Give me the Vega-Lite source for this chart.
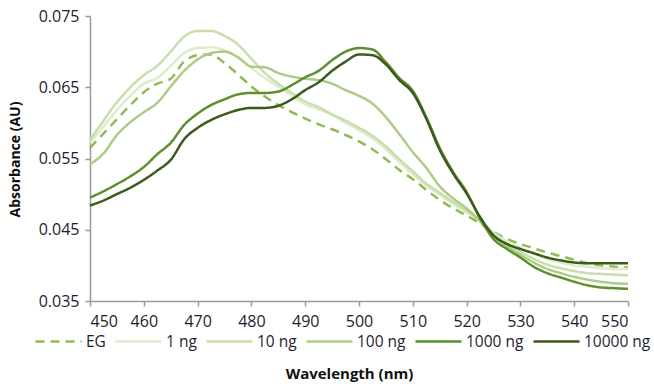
{
  "$schema": "https://vega.github.io/schema/vega-lite/v6.json",
  "autosize": "none",
  "width": 538,
  "height": 285,
  "padding": {"left": 90, "top": 16, "right": 26, "bottom": 83},
  "background": "white",
  "config": {
    "view": {"stroke": null},
    "font": "Open Sans",
    "axis": {
      "domainColor": "#9a9a9a",
      "domainWidth": 1.5,
      "tickColor": "#9a9a9a",
      "tickWidth": 1.5,
      "tickSize": 5,
      "grid": false,
      "labelFont": "Open Sans",
      "labelFontSize": 16,
      "labelColor": "#1e1e2a",
      "titleFont": "Open Sans",
      "titleFontWeight": "bold",
      "titleFontSize": 15,
      "titleColor": "#111111"
    },
    "legend": {
      "labelFont": "Open Sans",
      "labelFontSize": 15.5,
      "labelColor": "#1e1e2a"
    }
  },
  "data": {
    "values": [
      {"wl": 450, "EG": 0.0565, "1 ng": 0.0572, "10 ng": 0.0576, "100 ng": 0.0542, "1000 ng": 0.0495, "10000 ng": 0.0484},
      {"wl": 452.5, "EG": 0.0585, "1 ng": 0.0595, "10 ng": 0.0603, "100 ng": 0.0557, "1000 ng": 0.0504, "10000 ng": 0.0491},
      {"wl": 455, "EG": 0.0605, "1 ng": 0.0618, "10 ng": 0.0629, "100 ng": 0.0583, "1000 ng": 0.0514, "10000 ng": 0.05},
      {"wl": 457.5, "EG": 0.0625, "1 ng": 0.0638, "10 ng": 0.065, "100 ng": 0.0601, "1000 ng": 0.0525, "10000 ng": 0.0509},
      {"wl": 460, "EG": 0.0643, "1 ng": 0.0655, "10 ng": 0.0667, "100 ng": 0.0615, "1000 ng": 0.0538, "10000 ng": 0.052},
      {"wl": 462.5, "EG": 0.0655, "1 ng": 0.0663, "10 ng": 0.068, "100 ng": 0.0628, "1000 ng": 0.0556, "10000 ng": 0.0533},
      {"wl": 465, "EG": 0.0662, "1 ng": 0.068, "10 ng": 0.07, "100 ng": 0.0651, "1000 ng": 0.0572, "10000 ng": 0.0548},
      {"wl": 467.5, "EG": 0.0686, "1 ng": 0.0698, "10 ng": 0.0721, "100 ng": 0.0673, "1000 ng": 0.0597, "10000 ng": 0.0577},
      {"wl": 470, "EG": 0.0695, "1 ng": 0.0705, "10 ng": 0.0729, "100 ng": 0.0689, "1000 ng": 0.0613, "10000 ng": 0.0593},
      {"wl": 472.5, "EG": 0.0696, "1 ng": 0.0706, "10 ng": 0.0729, "100 ng": 0.0698, "1000 ng": 0.0625, "10000 ng": 0.0604},
      {"wl": 475, "EG": 0.0684, "1 ng": 0.0702, "10 ng": 0.0722, "100 ng": 0.07, "1000 ng": 0.0633, "10000 ng": 0.0612},
      {"wl": 477.5, "EG": 0.0668, "1 ng": 0.0692, "10 ng": 0.071, "100 ng": 0.0692, "1000 ng": 0.064, "10000 ng": 0.0618},
      {"wl": 480, "EG": 0.0651, "1 ng": 0.0677, "10 ng": 0.069, "100 ng": 0.0679, "1000 ng": 0.0642, "10000 ng": 0.0621},
      {"wl": 482.5, "EG": 0.0637, "1 ng": 0.0663, "10 ng": 0.067, "100 ng": 0.0678, "1000 ng": 0.0642, "10000 ng": 0.0621},
      {"wl": 485, "EG": 0.0625, "1 ng": 0.0651, "10 ng": 0.0655, "100 ng": 0.067, "1000 ng": 0.0644, "10000 ng": 0.0624},
      {"wl": 487.5, "EG": 0.0615, "1 ng": 0.0638, "10 ng": 0.0642, "100 ng": 0.0665, "1000 ng": 0.0653, "10000 ng": 0.0633},
      {"wl": 490, "EG": 0.0606, "1 ng": 0.0626, "10 ng": 0.063, "100 ng": 0.0662, "1000 ng": 0.0664, "10000 ng": 0.0646},
      {"wl": 492.5, "EG": 0.0598, "1 ng": 0.0619, "10 ng": 0.0622, "100 ng": 0.066, "1000 ng": 0.0673, "10000 ng": 0.0657},
      {"wl": 495, "EG": 0.0591, "1 ng": 0.0611, "10 ng": 0.0612, "100 ng": 0.0655, "1000 ng": 0.0688, "10000 ng": 0.0673},
      {"wl": 497.5, "EG": 0.0583, "1 ng": 0.06, "10 ng": 0.0603, "100 ng": 0.0646, "1000 ng": 0.07, "10000 ng": 0.0686},
      {"wl": 500, "EG": 0.0574, "1 ng": 0.059, "10 ng": 0.0593, "100 ng": 0.0638, "1000 ng": 0.0705, "10000 ng": 0.0696},
      {"wl": 502.5, "EG": 0.0563, "1 ng": 0.0578, "10 ng": 0.0582, "100 ng": 0.0627, "1000 ng": 0.0703, "10000 ng": 0.0695},
      {"wl": 505, "EG": 0.0549, "1 ng": 0.0563, "10 ng": 0.0567, "100 ng": 0.0608, "1000 ng": 0.0685, "10000 ng": 0.0682},
      {"wl": 507.5, "EG": 0.0534, "1 ng": 0.0545, "10 ng": 0.0549, "100 ng": 0.0584, "1000 ng": 0.0663, "10000 ng": 0.066},
      {"wl": 510, "EG": 0.0521, "1 ng": 0.0528, "10 ng": 0.0532, "100 ng": 0.0559, "1000 ng": 0.0645, "10000 ng": 0.0642},
      {"wl": 512.5, "EG": 0.0506, "1 ng": 0.0512, "10 ng": 0.0515, "100 ng": 0.0537, "1000 ng": 0.0608, "10000 ng": 0.0606},
      {"wl": 515, "EG": 0.0492, "1 ng": 0.0499, "10 ng": 0.0502, "100 ng": 0.0511, "1000 ng": 0.0565, "10000 ng": 0.0562},
      {"wl": 517.5, "EG": 0.048, "1 ng": 0.0486, "10 ng": 0.0489, "100 ng": 0.0494, "1000 ng": 0.0531, "10000 ng": 0.0529},
      {"wl": 520, "EG": 0.047, "1 ng": 0.0474, "10 ng": 0.0477, "100 ng": 0.048, "1000 ng": 0.0503, "10000 ng": 0.0501},
      {"wl": 522.5, "EG": 0.0459, "1 ng": 0.0463, "10 ng": 0.0463, "100 ng": 0.0462, "1000 ng": 0.0466, "10000 ng": 0.0468},
      {"wl": 525, "EG": 0.0447, "1 ng": 0.0446, "10 ng": 0.0444, "100 ng": 0.0442, "1000 ng": 0.0437, "10000 ng": 0.0442},
      {"wl": 527.5, "EG": 0.0437, "1 ng": 0.0434, "10 ng": 0.043, "100 ng": 0.0427, "1000 ng": 0.0423, "10000 ng": 0.043},
      {"wl": 530, "EG": 0.043, "1 ng": 0.0425, "10 ng": 0.0419, "100 ng": 0.0415, "1000 ng": 0.0411, "10000 ng": 0.0423},
      {"wl": 532.5, "EG": 0.0424, "1 ng": 0.0416, "10 ng": 0.0409, "100 ng": 0.0404, "1000 ng": 0.0398, "10000 ng": 0.0417},
      {"wl": 535, "EG": 0.0418, "1 ng": 0.0409, "10 ng": 0.0401, "100 ng": 0.0395, "1000 ng": 0.0389, "10000 ng": 0.0411},
      {"wl": 537.5, "EG": 0.0413, "1 ng": 0.0404, "10 ng": 0.0396, "100 ng": 0.0389, "1000 ng": 0.0383, "10000 ng": 0.0407},
      {"wl": 540, "EG": 0.0408, "1 ng": 0.04, "10 ng": 0.0392, "100 ng": 0.0384, "1000 ng": 0.0377, "10000 ng": 0.0404},
      {"wl": 542.5, "EG": 0.0403, "1 ng": 0.0398, "10 ng": 0.0389, "100 ng": 0.038, "1000 ng": 0.0372, "10000 ng": 0.0403},
      {"wl": 545, "EG": 0.04, "1 ng": 0.0396, "10 ng": 0.0388, "100 ng": 0.0377, "1000 ng": 0.0369, "10000 ng": 0.0403},
      {"wl": 547.5, "EG": 0.0398, "1 ng": 0.0395, "10 ng": 0.0387, "100 ng": 0.0375, "1000 ng": 0.0368, "10000 ng": 0.0403},
      {"wl": 550, "EG": 0.0397, "1 ng": 0.0395, "10 ng": 0.0386, "100 ng": 0.0374, "1000 ng": 0.0367, "10000 ng": 0.0403}
    ]
  },
  "transform": [
    {"fold": ["EG", "1 ng", "10 ng", "100 ng", "1000 ng", "10000 ng"], "as": ["sample", "absorbance"]}
  ],
  "mark": {"type": "line", "interpolate": "monotone", "strokeWidth": 2.5},
  "encoding": {
    "x": {
      "field": "wl",
      "type": "quantitative",
      "scale": {"domain": [450, 550], "nice": false, "zero": false},
      "axis": {
        "values": [450, 460, 470, 480, 490, 500, 510, 520, 530, 540, 550],
        "labelPadding": 7,
        "title": "Wavelength (nm)",
        "titleX": 259,
        "titleY": 72,
        "titleBaseline": "middle",
        "titleAnchor": "middle"
      }
    },
    "y": {
      "field": "absorbance",
      "type": "quantitative",
      "scale": {"domain": [0.035, 0.075], "nice": false, "zero": false},
      "axis": {
        "values": [0.035, 0.045, 0.055, 0.065, 0.075],
        "format": ".3f",
        "labelPadding": 6,
        "title": "Absorbance (AU)",
        "titleFontSize": 14,
        "titleX": -75,
        "titleY": 143,
        "titleBaseline": "middle",
        "titleAnchor": "middle"
      }
    },
    "color": {
      "field": "sample",
      "type": "nominal",
      "scale": {
        "domain": ["EG", "1 ng", "10 ng", "100 ng", "1000 ng", "10000 ng"],
        "range": ["#8dbd4e", "#dfebcd", "#c9deab", "#abcd84", "#5e8f2e", "#3b5b1d"]
      },
      "legend": {
        "title": null,
        "orient": "none",
        "direction": "horizontal",
        "legendX": -56,
        "legendY": 301,
        "symbolType": "stroke",
        "symbolSize": 2116,
        "symbolStrokeWidth": 2.5,
        "labelOffset": 3,
        "columnPadding": 4
      }
    },
    "strokeDash": {
      "field": "sample",
      "type": "nominal",
      "scale": {
        "domain": ["EG", "1 ng", "10 ng", "100 ng", "1000 ng", "10000 ng"],
        "range": [[9, 6], [1, 0], [1, 0], [1, 0], [1, 0], [1, 0]]
      },
      "legend": {
        "title": null,
        "orient": "none",
        "direction": "horizontal",
        "legendX": -56,
        "legendY": 301,
        "symbolType": "stroke",
        "symbolSize": 2116,
        "symbolStrokeWidth": 2.5,
        "labelOffset": 3,
        "columnPadding": 4
      }
    }
  }
}
